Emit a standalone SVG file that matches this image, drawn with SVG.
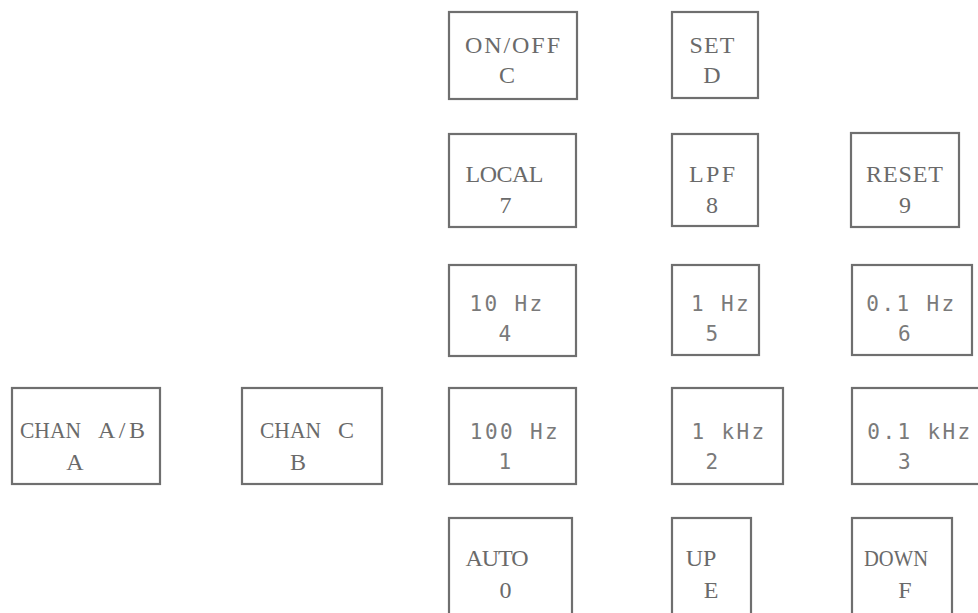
<svg xmlns="http://www.w3.org/2000/svg" width="978" height="613" viewBox="0 0 978 613">
<style>
.k{fill:none;stroke:#6f6f6f;stroke-width:2.2}
.s{font-family:"Liberation Serif","Times New Roman",serif;font-size:24px;fill:#6a6a6a;text-anchor:middle}
.l{text-anchor:start}
.m{font-family:"DejaVu Sans Mono","Liberation Mono",monospace;font-size:21px;letter-spacing:2.4px;fill:#7a7a7a;text-anchor:middle}
</style>
<rect width="978" height="613" fill="#ffffff"/>
<g id="connectors"/>
<g id="key-onoff"><rect class="k" x="449" y="12" width="128" height="87"/><text class="s" x="512.5" y="53" textLength="95" lengthAdjust="spacing">ON/OFF</text><text class="s" x="507" y="83">C</text></g>
<g id="key-set"><rect class="k" x="672" y="12" width="86" height="86"/><text class="s" x="712" y="53" textLength="45" lengthAdjust="spacing">SET</text><text class="s" x="712" y="83">D</text></g>
<g id="key-local"><rect class="k" x="449" y="134" width="127" height="93"/><text class="s" x="504.5" y="182" textLength="78" lengthAdjust="spacing">LOCAL</text><text class="s" x="505.5" y="213">7</text></g>
<g id="key-lpf"><rect class="k" x="672" y="134" width="86" height="92"/><text class="s" x="712" y="182" textLength="46" lengthAdjust="spacing">LPF</text><text class="s" x="712" y="213">8</text></g>
<g id="key-reset"><rect class="k" x="851" y="133" width="108" height="94"/><text class="s" x="904.5" y="182" textLength="77" lengthAdjust="spacing">RESET</text><text class="s" x="905" y="213">9</text></g>
<g id="key-10hz"><rect class="k" x="449" y="265" width="127" height="91"/><text class="m" x="507" y="311">10 Hz</text><text class="m" x="506" y="341">4</text></g>
<g id="key-1hz"><rect class="k" x="672" y="265" width="87" height="90"/><text class="m" x="721" y="311">1 Hz</text><text class="m" x="713" y="341">5</text></g>
<g id="key-01hz"><rect class="k" x="852" y="265" width="120" height="90"/><text class="m" x="911.5" y="311">0.1 Hz</text><text class="m" x="905.5" y="341">6</text></g>
<g id="key-chanab"><rect class="k" x="12" y="388" width="148" height="96"/><text class="s l" y="438"><tspan x="20" textLength="61" lengthAdjust="spacingAndGlyphs">CHAN</tspan> <tspan x="98" textLength="47" lengthAdjust="spacing">A/B</tspan></text><text class="s" x="75" y="470">A</text></g>
<g id="key-chanc"><rect class="k" x="242" y="388" width="140" height="96"/><text class="s l" y="438"><tspan x="260" textLength="61" lengthAdjust="spacingAndGlyphs">CHAN</tspan> <tspan x="338">C</tspan></text><text class="s" x="298" y="470">B</text></g>
<g id="key-100hz"><rect class="k" x="449" y="388" width="127" height="96"/><text class="m" x="515" y="439">100 Hz</text><text class="m" x="506" y="469">1</text></g>
<g id="key-1khz"><rect class="k" x="672" y="388" width="111" height="96"/><text class="m" x="729" y="439">1 kHz</text><text class="m" x="713" y="469">2</text></g>
<g id="key-01khz"><rect class="k" x="852" y="388" width="130" height="96"/><text class="m" x="920" y="439">0.1 kHz</text><text class="m" x="905.5" y="469">3</text></g>
<g id="key-auto"><rect class="k" x="449" y="518" width="123" height="110"/><text class="s" x="497" y="566" textLength="63" lengthAdjust="spacing">AUTO</text><text class="s" x="505.5" y="598">0</text></g>
<g id="key-up"><rect class="k" x="672" y="518" width="79" height="110"/><text class="s" x="701" y="566">UP</text><text class="s" x="711" y="598">E</text></g>
<g id="key-down"><rect class="k" x="852" y="518" width="100" height="110"/><text class="s" x="896" y="566" textLength="64" lengthAdjust="spacingAndGlyphs">DOWN</text><text class="s" x="905" y="598">F</text></g>
</svg>
